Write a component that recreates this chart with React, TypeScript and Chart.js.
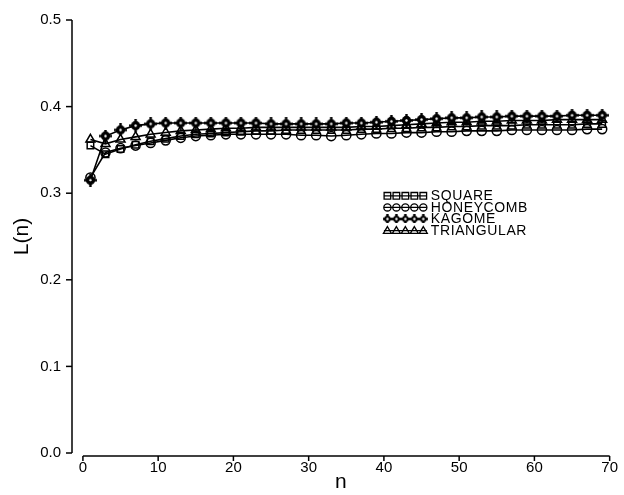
import React, { useEffect, useRef } from "react";
import { Chart, registerables } from "chart.js";

Chart.register(...registerables);

// ---- data ----
const nValues = [1, 3, 5, 7, 9, 11, 13, 15, 17, 19, 21, 23, 25, 27, 29, 31, 33, 35, 37, 39, 41, 43, 45, 47, 49, 51, 53, 55, 57, 59, 61, 63, 65, 67, 69];

const squareL = [0.355, 0.345, 0.351, 0.356, 0.360, 0.363, 0.366, 0.368, 0.369, 0.370, 0.371, 0.372, 0.372, 0.373, 0.373, 0.373, 0.373, 0.373, 0.374, 0.374, 0.375, 0.375, 0.376, 0.376, 0.377, 0.377, 0.378, 0.378, 0.378, 0.379, 0.379, 0.379, 0.379, 0.380, 0.380];

const honeycombL = [0.318, 0.347, 0.352, 0.355, 0.358, 0.361, 0.364, 0.366, 0.367, 0.368, 0.368, 0.368, 0.368, 0.368, 0.367, 0.367, 0.366, 0.367, 0.368, 0.369, 0.369, 0.370, 0.370, 0.371, 0.371, 0.372, 0.372, 0.372, 0.373, 0.373, 0.373, 0.373, 0.373, 0.374, 0.374];

const kagomeL = [0.315, 0.366, 0.373, 0.378, 0.380, 0.381, 0.381, 0.381, 0.381, 0.381, 0.381, 0.381, 0.380, 0.380, 0.380, 0.380, 0.380, 0.381, 0.381, 0.382, 0.383, 0.384, 0.385, 0.386, 0.387, 0.387, 0.388, 0.388, 0.389, 0.389, 0.389, 0.389, 0.390, 0.390, 0.390];

const triangularL = [0.362, 0.357, 0.362, 0.365, 0.368, 0.370, 0.372, 0.373, 0.374, 0.375, 0.375, 0.376, 0.376, 0.376, 0.376, 0.376, 0.376, 0.376, 0.377, 0.377, 0.378, 0.379, 0.380, 0.381, 0.382, 0.382, 0.383, 0.383, 0.384, 0.384, 0.384, 0.385, 0.385, 0.385, 0.385];

const seriesNames = ["SQUARE", "HONEYCOMB", "KAGOME", "TRIANGULAR"];
const xTickValues = [0, 10, 20, 30, 40, 50, 60, 70];
const yTickValues = [0, 0.1, 0.2, 0.3, 0.4, 0.5];
const xTitle = "n";
const yTitle = "L(n)";

const FONT = "'Liberation Sans', Arial, sans-serif";

function makeKagomeMarker(size: number): HTMLCanvasElement {
  const c = document.createElement("canvas");
  c.width = size;
  c.height = size;
  const g = c.getContext("2d")!;
  const m = size / 2;
  g.fillStyle = "#000";
  g.beginPath();
  g.arc(m, m, size * 0.36, 0, Math.PI * 2);
  g.fill();
  g.fillRect(m - 1.2, 0, 2.4, size);
  g.fillRect(0, m - 1.2, size, 2.4);
  g.fillStyle = "#fff";
  g.beginPath();
  g.arc(m, m, 1.2, 0, Math.PI * 2);
  g.fill();
  return c;
}

function drawLegendMarker(ctx: CanvasRenderingContext2D, kind: string, x: number, y: number, r: number, img?: HTMLCanvasElement) {
  ctx.beginPath();
  if (kind === "rect") {
    ctx.rect(x - r, y - r, 2 * r, 2 * r);
    ctx.stroke();
  } else if (kind === "circle") {
    ctx.arc(x, y, r, 0, Math.PI * 2);
    ctx.stroke();
  } else if (kind === "triangle") {
    ctx.moveTo(x, y - r);
    ctx.lineTo(x + r, y + r * 0.7);
    ctx.lineTo(x - r, y + r * 0.7);
    ctx.closePath();
    ctx.stroke();
  } else if (img) {
    ctx.drawImage(img, x - img.width / 2, y - img.height / 2);
  }
}

export default function App() {
  const ref = useRef<HTMLCanvasElement | null>(null);

  useEffect(() => {
    document.body.style.margin = "0";
    const canvas = ref.current!;
    const kagomeBig = makeKagomeMarker(13);
    const kagomeSmall = makeKagomeMarker(9);

    const styles: any[] = [
      { pointStyle: "rect", radius: 4.6, kind: "rect", legendRadius: 3.3 },
      { pointStyle: "circle", radius: 4.6, kind: "circle", legendRadius: 3.6 },
      { pointStyle: kagomeBig, radius: 4.6, kind: "img", legendRadius: 3.6, img: kagomeSmall },
      { pointStyle: "triangle", radius: 5.2, kind: "triangle", legendRadius: 4 },
    ];
    const seriesData = [squareL, honeycombL, kagomeL, triangularL];

    const datasets = seriesData.map((vals, i) => ({
      label: seriesNames[i],
      data: nValues.map((n, j) => ({ x: n, y: vals[j] })),
      borderColor: "#000",
      borderWidth: 1.6,
      backgroundColor: "rgba(0,0,0,0)",
      pointStyle: styles[i].pointStyle,
      pointRadius: styles[i].radius,
      pointBorderColor: "#000",
      pointBorderWidth: 1.5,
      pointBackgroundColor: "rgba(0,0,0,0)",
      tension: 0,
      fill: false,
    }));

    const axesPlugin = {
      id: "axesPlugin",
      afterDraw(chart: any) {
        const ctx = chart.ctx as CanvasRenderingContext2D;
        const xs = chart.scales.x;
        const ys = chart.scales.y;
        const area = chart.chartArea;
        ctx.save();
        ctx.strokeStyle = "#000";
        ctx.lineWidth = 1.5;
        // y axis
        const yx = area.left;
        ctx.beginPath();
        ctx.moveTo(yx, ys.getPixelForValue(0.5));
        ctx.lineTo(yx, ys.getPixelForValue(0));
        ctx.stroke();
        yTickValues.forEach((v) => {
          const py = ys.getPixelForValue(v);
          ctx.beginPath();
          ctx.moveTo(yx - 6, py);
          ctx.lineTo(yx, py);
          ctx.stroke();
        });
        // x axis
        const xy = area.bottom + 3;
        ctx.beginPath();
        ctx.moveTo(xs.getPixelForValue(0), xy);
        ctx.lineTo(xs.getPixelForValue(70), xy);
        ctx.stroke();
        xTickValues.forEach((v) => {
          const px = xs.getPixelForValue(v);
          ctx.beginPath();
          ctx.moveTo(px, xy);
          ctx.lineTo(px, xy + 5);
          ctx.stroke();
        });

        // legend
        const lx0 = xs.getPixelForValue(40.0);
        const lx1 = xs.getPixelForValue(45.7);
        const ly0 = ys.getPixelForValue(0.297);
        ctx.font = `14px ${FONT}`;
        (ctx as any).letterSpacing = "0.6px";
        ctx.textBaseline = "middle";
        ctx.fillStyle = "#000";
        seriesNames.forEach((name, i) => {
          const y = ly0 + i * 11.6;
          ctx.lineWidth = 1.3;
          ctx.beginPath();
          ctx.moveTo(lx0, y);
          ctx.lineTo(lx1, y);
          ctx.stroke();
          for (let k = 0; k < 5; k++) {
            const px = lx0 + 3.5 + (k * (lx1 - lx0 - 7)) / 4;
            drawLegendMarker(ctx, styles[i].kind, px, y, styles[i].legendRadius, styles[i].img);
          }
          ctx.fillText(name, lx1 + 4, y + 0.5);
        });
        ctx.restore();
      },
    };

    const chart = new Chart(canvas, {
      type: "line",
      data: { datasets },
      plugins: [axesPlugin],
      options: {
        responsive: false,
        animation: false,
        layout: { padding: { top: 19, right: 10, left: 0, bottom: 0 } },
        plugins: {
          legend: { display: false },
          tooltip: { enabled: false },
        },
        scales: {
          x: {
            type: "linear",
            min: -1.45,
            max: 70,
            grid: { display: false, drawTicks: false },
            border: { display: false },
            afterBuildTicks: (s: any) => {
              s.ticks = xTickValues.map((v) => ({ value: v }));
            },
            afterFit: (s: any) => {
              s.height = 42;
            },
            ticks: {
              color: "#000",
              padding: 6,
              maxRotation: 0,
              font: { family: FONT, size: 15 },
              callback: (v: any) => String(v),
            },
            title: {
              display: true,
              text: xTitle,
              color: "#000",
              font: { family: FONT, size: 21 },
              padding: 0,
            },
          },
          y: {
            type: "linear",
            min: 0,
            max: 0.5,
            grid: { display: false, drawTicks: false },
            border: { display: false },
            afterBuildTicks: (s: any) => {
              s.ticks = yTickValues.map((v) => ({ value: v }));
            },
            afterFit: (s: any) => {
              s.width = 72;
            },
            ticks: {
              color: "#000",
              padding: 11,
              font: { family: FONT, size: 15 },
              callback: (v: any) => Number(v).toFixed(1),
            },
            title: {
              display: true,
              text: yTitle,
              color: "#000",
              font: { family: FONT, size: 21 },
              padding: { top: 10, bottom: 0 },
            },
          },
        },
      },
    });
    return () => chart.destroy();
  }, []);

  return (
    <div style={{ width: 624, height: 495 }}>
      <canvas ref={ref} width={624} height={495} style={{ display: "block" }} />
    </div>
  );
}
